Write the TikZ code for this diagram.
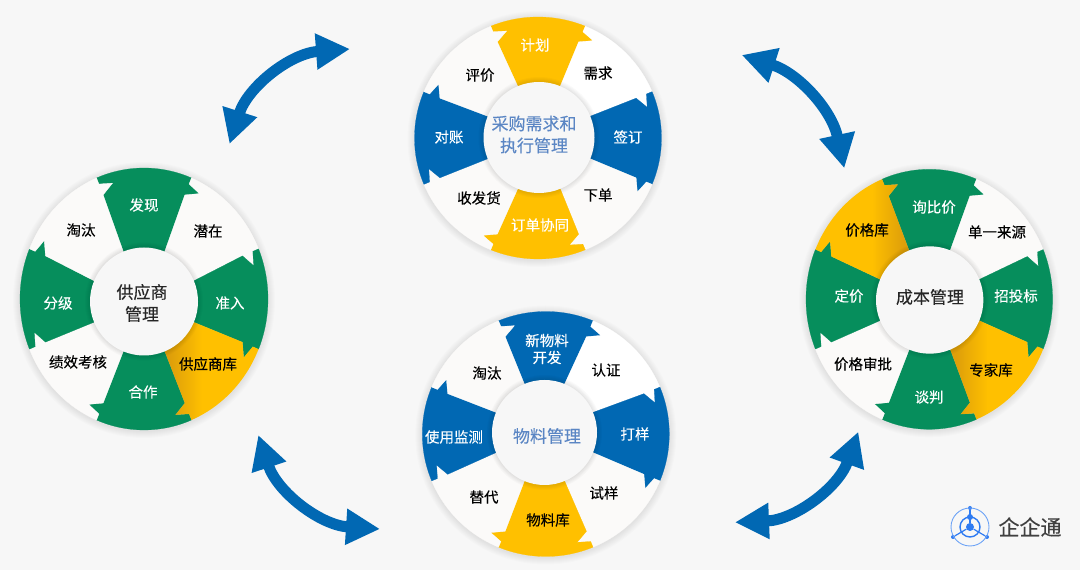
\documentclass[tikz,border=0pt]{standalone}
\usepackage{fontspec}
\setmainfont{Noto Sans CJK SC}[FakeBold=0.2]
\usetikzlibrary{arrows.meta}
\definecolor{pagebg}{HTML}{F7F7F7}
\definecolor{segblue}{HTML}{0168B3}
\definecolor{seggreen}{HTML}{068E5C}
\definecolor{segyellow}{HTML}{FFC000}
\definecolor{segwhite}{HTML}{FBFAF9}
\definecolor{yeldark}{HTML}{DE9F0A}
\definecolor{midblue}{HTML}{5B86C4}
\definecolor{logoblue}{HTML}{2F7BF2}
\pgfdeclarehorizontalshading{yeledge}{100bp}{color(0bp)=(yeldark); color(28bp)=(yeldark); color(45bp)=(segyellow); color(100bp)=(segyellow)}
% one ring segment, #1 is the angle of its clockwise edge
\newcommand{\seg}[2]{\path[#2]
  ({\ix+\ir*cos(#1)},{\iy+\ir*sin(#1)})
  -- ({\ox+.86*\rx*cos(#1)},{\oy+.86*\ry*sin(#1)})
  -- ({\ox+.92*\rx*cos(#1-6.5)},{\oy+.92*\ry*sin(#1-6.5)})
  -- ({\ox+.95*\rx*cos(#1)},{\oy+.95*\ry*sin(#1)})
  -- ({\ox+\rx*cos(#1)},{\oy+\ry*sin(#1)})
  arc[start angle=#1,delta angle=45,x radius=\rx,y radius=\ry]
  -- ({\ox+.95*\rx*cos(#1+45)},{\oy+.95*\ry*sin(#1+45)})
  -- ({\ox+.92*\rx*cos(#1+38.5)},{\oy+.92*\ry*sin(#1+38.5)})
  -- ({\ox+.86*\rx*cos(#1+45)},{\oy+.86*\ry*sin(#1+45)})
  -- ({\ix+\ir*cos(#1+45)},{\iy+\ir*sin(#1+45)}) -- cycle;}
% the soft shadows behind a ring and around its hole
\newcommand{\ringback}{\foreach \s in {1,...,7}
  \fill[black,opacity=.012] (\ox,\oy-1) ellipse [x radius=\rx+\s,y radius=\ry+\s];}
\newcommand{\ringhole}{\foreach \s in {1,...,5}
  \fill[black,opacity=.018] (\ix,\iy) circle (\ir+\s);
  \fill[pagebg] (\ix,\iy) circle (\ir);}
\begin{document}
\begin{tikzpicture}[x=1pt,y=1pt,
    seg/.style={fill=#1,draw=#1,line width=.2pt},
    yelshade/.style={shade,shading=yeledge,shading angle=#1},
    lab/.style={font=\fontsize{14.5}{17}\selectfont,text=black,inner sep=0pt},
    labw/.style={lab,text=white},
    hub/.style={font=\fontsize{17}{22}\selectfont,text=#1,inner sep=0pt,align=center},
    bigarrow/.style={segblue,line width=11pt,{Triangle[length=34pt,width=34pt]}-{Triangle[length=34pt,width=34pt]}},
    logodot/.style={fill=logoblue,circle,inner sep=0pt,minimum size=#1}]
  \useasboundingbox (0,0) rectangle (1080,570);
  \fill[pagebg] (0,0) rectangle (1080,570);

  % purchasing ring
  \def\ox{538}\def\oy{432}\def\rx{123.5}\def\ry{121}\def\ix{539}\def\iy{432.5}\def\ir{55.5}
  \ringback
  \foreach \a/\col in {67.5/segyellow,22.5/white,-22.5/segblue,-67.5/segwhite,
      -112.5/segyellow,-157.5/segwhite,-202.5/segblue,-247.5/segwhite}
    \seg{\a}{seg=\col};
  \ringhole
  \node[labw] (plan) at (535,525) {计划};
  \node[lab] (need) at (598,497) {需求};
  \node[labw] (sign) at (628,433) {签订};
  \node[lab] (order) at (598,375) {下单};
  \node[labw] (collab) at (540,345) {订单协同};
  \node[lab] (receive) at (479,372) {收发货};
  \node[labw] (recon) at (449,433) {对账};
  \node[lab] (rate) at (480,495) {评价};
  \node[hub=midblue] (buyhub) at (534,435.5) {采购需求和\\执行管理};

  % supplier ring
  \def\ox{144}\def\oy{271}\def\rx{124}\def\ry{131}\def\ix{144}\def\iy{268.5}\def\ir{54}
  \ringback
  \foreach \a/\col in {67.5/seggreen,22.5/segwhite,-22.5/seggreen,-112.5/seggreen,
      -157.5/segwhite,-202.5/seggreen,-247.5/segwhite}
    \seg{\a}{seg=\col};
  \seg{-67.5}{yelshade=0}
  \ringhole
  \node[labw] (find) at (144,365) {发现};
  \node[lab] (latent) at (208,339) {潜在};
  \node[labw] (admit) at (230,267) {准入};
  \node[lab] (suplib) at (208,206) {供应商库};
  \node[labw] (coop) at (143,178) {合作};
  \node[lab] (assess) at (78,208) {绩效考核};
  \node[labw] (grade) at (58,267) {分级};
  \node[lab] (dropa) at (81,340) {淘汰};
  \node[hub=black!85] (suphub) at (142,267) {供应商\\管理};

  % cost ring
  \def\ox{929.3}\def\oy{270.7}\def\rx{123.3}\def\ry{130}\def\ix{929.7}\def\iy{270}\def\ir{53.7}
  \ringback
  \foreach \a/\col in {67.5/seggreen,22.5/segwhite,-22.5/seggreen,-112.5/seggreen,
      -157.5/segwhite,-202.5/seggreen}
    \seg{\a}{seg=\col};
  \seg{-67.5}{yelshade=0}
  \seg{-247.5}{yelshade=180}
  \ringhole
  \node[labw] (enquiry) at (934,363) {询比价};
  \node[lab] (single) at (997,338) {单一来源};
  \node[labw] (tender) at (1016,274) {招投标};
  \node[lab] (experts) at (991,200) {专家库};
  \node[labw] (talks) at (929,173) {谈判};
  \node[lab] (review) at (863,206) {价格审批};
  \node[labw] (pricing) at (849,274) {定价};
  \node[lab] (pricelib) at (867,340) {价格库};
  \node[hub=black!85] (costhub) at (930,273) {成本管理};

  % material ring
  \def\ox{545.8}\def\oy{136}\def\rx{123.5}\def\ry{122.5}\def\ix{544.5}\def\iy{137.5}\def\ir{52.5}
  \ringback
  \foreach \a/\col in {67.5/segblue,22.5/white,-22.5/segblue,-67.5/segwhite,
      -112.5/segyellow,-157.5/segwhite,-202.5/segblue,-247.5/segwhite}
    \seg{\a}{seg=\col};
  \ringhole
  \node[labw,align=center] (newmat) at (547,221) {新物料\\开发};
  \node[lab] (certify) at (606,200) {认证};
  \node[labw] (proof) at (635,136) {打样};
  \node[lab] (trial) at (604,77) {试样};
  \node[lab] (matlib) at (548,50) {物料库};
  \node[lab] (replace) at (484,73) {替代};
  \node[labw] (monitor) at (454,133) {使用监测};
  \node[lab] (dropb) at (487,197) {淘汰};
  \node[hub=midblue] (mathub) at (547,134) {物料管理};

  % the arrows between the rings
  \coordinate (ta) at (350,521);
  \coordinate (tb) at (229.5,426);
  \coordinate (tc) at (741.7,515);
  \coordinate (td) at (844.3,401.7);
  \coordinate (te) at (258.3,135);
  \coordinate (tf) at (380,41);
  \coordinate (tg) at (735,47.7);
  \coordinate (th) at (858.3,138.3);
  \draw[bigarrow] (ta) to[bend right=34] (tb);
  \draw[bigarrow] (tc) to[bend left=30] (td);
  \draw[bigarrow] (te) to[bend right=34] (tf);
  \draw[bigarrow] (tg) to[bend right=34] (th);

  % logo
  \node[logodot=8pt] (lgcore) at (970,43) {};
  \node[logodot=6pt] (lgup) at (970,53) {};
  \node[logodot=4pt] (lgtop) at (970,62) {};
  \node[logodot=4pt] (lgleft) at (953,33) {};
  \node[logodot=4pt] (lgright) at (987,33) {};
  \draw[logoblue!70,line width=.9pt] (lgcore) circle (19);
  \draw[logoblue,line width=1.4pt] (lgcore) circle (10);
  \draw[logoblue,line width=1.2pt] (lgcore) -- (lgtop);
  \draw[logoblue,line width=1.2pt] (lgcore) -- (lgleft);
  \draw[logoblue,line width=1.2pt] (lgcore) -- (lgright);
  \node[font=\fontsize{21}{24}\selectfont,text=black!75,inner sep=0pt] (brand) at (1030,43) {企企通};
\end{tikzpicture}
\end{document}
